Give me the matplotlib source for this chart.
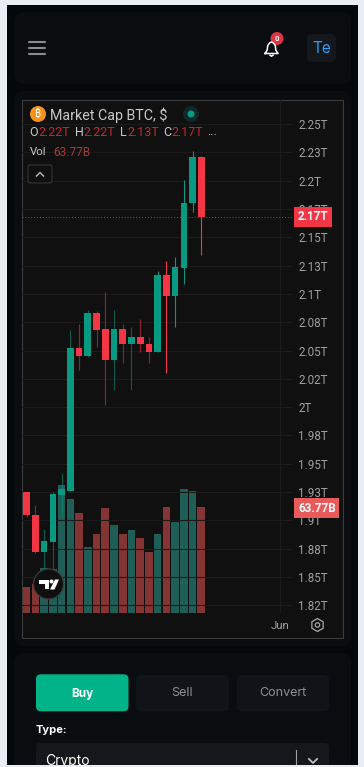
import numpy as np
import matplotlib
matplotlib.use('Agg')
from matplotlib import pyplot as plt
from matplotlib.patches import Circle, FancyBboxPatch, Polygon, Rectangle, RegularPolygon

plt.rcParams['font.family'] = ['Roboto', 'DejaVu Sans']

# candles, in trillions of dollars
opens = [1.925, 1.905, 1.872, 1.881, 1.922, 1.926, 2.052, 2.045, 2.083, 2.069, 2.042,
         2.069, 2.056, 2.062, 2.056, 2.049, 2.117, 2.098, 2.123, 2.180, 2.221]
closes = [1.905, 1.872, 1.882, 1.923, 1.928, 2.052, 2.045, 2.083, 2.068, 2.042, 2.069,
          2.056, 2.062, 2.056, 2.049, 2.117, 2.098, 2.124, 2.180, 2.221, 2.168]
highs = [1.925, 1.914, 1.892, 1.925, 1.942, 2.068, 2.073, 2.086, 2.085, 2.102, 2.086,
         2.073, 2.071, 2.078, 2.062, 2.120, 2.129, 2.133, 2.201, 2.226, 2.222]
lows = [1.903, 1.871, 1.856, 1.856, 1.903, 1.925, 2.033, 2.044, 2.053, 2.002, 2.015,
        2.039, 2.015, 2.049, 2.039, 2.049, 2.030, 2.071, 2.109, 2.172, 2.134]
# volume, in billions
volumes = [15.7, 17.4, 27.0, 26.6, 77.3, 68.6, 60.3, 39.6, 47.4, 63.2, 52.9,
           47.4, 50.0, 45.2, 36.9, 47.4, 64.1, 55.1, 75.0, 73.4, 63.77]
price_ticks = [2.25, 2.225, 2.2, 2.175, 2.15, 2.125, 2.1, 2.075, 2.05, 2.025, 2.0,
               1.975, 1.95, 1.925, 1.9, 1.875, 1.85, 1.825]
price_labels = ['2.25T', '2.23T', '2.2T', '2.17T', '2.15T', '2.13T', '2.1T', '2.08T', '2.05T',
                '2.02T', '2T', '1.98T', '1.95T', '1.93T', '1.9T', '1.88T', '1.85T', '1.82T']
month_ticks = [29]
month_labels = ['Jun']

UP = '#089981'
DOWN = '#f23645'
W, H = 364, 767


def axes_px(left, top, right, bottom, **kw):
    return fig.add_axes([left / W, 1 - bottom / H, (right - left) / W, (bottom - top) / H], **kw)


def box(ax, left, top, right, bottom, r, color, edge='none', **kw):
    ax.add_patch(FancyBboxPatch((left, top), right - left, bottom - top,
                                boxstyle=f'round,pad=0,rounding_size={r}',
                                fc=color, ec=edge, lw=0.8, **kw))


fig = plt.figure(figsize=(W / 100, H / 100), facecolor='#e9eef5')

# page behind the chart
back = fig.add_axes([0, 0, 1, 1], zorder=0)
back.set_xlim(0, W)
back.set_ylim(H, 0)
back.axis('off')
back.add_patch(Rectangle((7, 5), 351, 760, fc='#05080b', ec='none'))
box(back, 14, 12, 351, 84, 10, '#0a0d10')
box(back, 14, 91, 351, 646, 10, '#0a0d10')
box(back, 14, 653, 351, 775, 10, '#0a0d10')
back.add_patch(Rectangle((21.5, 99.5), 321, 538.5, fc='#101010', ec='#3c3c3c', lw=0.8))

# volume sits under the candles
x = np.arange(len(opens))
is_up = np.array(closes) >= np.array(opens)
vol_ax = axes_px(22, 100, 292, 612.7, zorder=1)
vol_ax.patch.set_alpha(0)
vol_ax.axis('off')
vol_ax.bar(x, volumes, 0.87, color=np.where(is_up, '#1f5e57', '#843432'))
vol_ax.set_xlim(-0.538, 30.39)
vol_ax.set_ylim(0, 310.2)

ax = axes_px(22, 100, 292, 612.7, zorder=2)
ax.patch.set_alpha(0)
ax.set_xlim(-0.538, 30.39)
ax.set_ylim(1.8185, 2.2712)
for side in ax.spines.values():
    side.set_visible(False)
ax.yaxis.tick_right()
ax.set_yticks(price_ticks, price_labels)
ax.set_xticks(month_ticks, month_labels)
ax.tick_params(axis='y', length=0, pad=4.5, labelsize=8.4, labelcolor='#a0a0a0')
ax.tick_params(axis='x', length=0, pad=6, labelsize=8.2, labelcolor='#a0a0a0')
ax.grid(color='#1b1b1b', lw=0.8)
ax.set_axisbelow(True)

# the older wicks are drawn dimmer in the reference
for i in x:
    color = UP if is_up[i] else DOWN
    ax.vlines(i, lows[i], highs[i], color=color, lw=0.8, alpha=0.55 if i < 15 else 1, zorder=3)
ax.bar(x, np.abs(np.array(closes) - np.array(opens)), 0.76,
       bottom=np.minimum(opens, closes), color=np.where(is_up, UP, DOWN), zorder=4)
ax.axhline(closes[-1], color=DOWN, lw=0.7, ls=(0, (1, 2)), alpha=0.8, zorder=5)

# last value tags on the price scale
trans = ax.get_yaxis_transform()
ax.text(1.0222, closes[-1], '2.17T', transform=trans, ha='left', va='center', color='white',
        fontsize=8.4, fontweight='bold', clip_on=False, zorder=8,
        bbox=dict(fc=DOWN, ec='none', boxstyle='square,pad=0.32'))
vol_y = (612.7 - 508) / 512.7
ax.text(1.0222, vol_y, '63.77B', transform=ax.transAxes, ha='left', va='center', color='white',
        fontsize=8.4, fontweight='bold', clip_on=False, zorder=8,
        bbox=dict(fc='#e95a5a', ec='none', boxstyle='square,pad=0.32'))

# everything else on the page
top = fig.add_axes([0, 0, 1, 1], zorder=5)
top.patch.set_alpha(0)
top.set_xlim(0, W)
top.set_ylim(H, 0)
top.axis('off')

# header
for y in [41.7, 48, 54.3]:
    top.plot([29, 45], [y, y], color='#8c8c8c', lw=1.5, solid_capstyle='round')
bell = [(265, 53.5), (267.2, 50), (267.7, 45.5), (269.8, 42.8), (271.5, 42), (273.2, 42.8), (275.3, 45.5),
        (275.8, 50), (278, 53.5), (265, 53.5)]
top.plot(*zip(*bell), color='white', lw=1.1)
top.plot([270, 271.5, 273], [55.2, 56.2, 55.2], color='white', lw=1.1)
top.add_patch(Circle((277, 38.5), 6.5, fc='#dc3545', ec='none'))
top.text(277, 38.7, '0', color='white', fontsize=5.5, fontweight='bold', ha='center', va='center')
box(top, 307, 34, 336, 62, 5, '#14181c')
top.text(322, 48.5, 'Te', color='#2a9df4', fontsize=11, ha='center', va='center', family='Inter')

# chart legend
top.add_patch(Circle((38, 114), 8, fc='#f7931a', ec='none'))
top.text(38, 114.5, '\u20bf', color='white', fontsize=7.5, fontweight='bold', ha='center', va='center',
         family=['Noto Sans', 'Open Sans', 'Inter', 'Lato', 'Liberation Sans', 'DejaVu Sans'])
top.text(50, 115, 'Market Cap BTC, $', color='#c8c8c8', fontsize=10.3, ha='left', va='center')
top.add_patch(Circle((191, 114), 8, fc='#10282a', ec='none'))
top.add_patch(Circle((191, 114), 3.5, fc=UP, ec='none'))
ohlc = [(29, 'O', '2.22T', 38), (75, 'H', '2.22T', 83), (120, 'L', '2.13T', 127), (163, 'C', '2.17T', 171)]
for x0, name, value, x1 in ohlc:
    top.text(x0, 133, name, color='#c8c8c8', fontsize=9, ha='left', va='center')
    top.text(x1, 133, value, color='#c5262f', fontsize=9, ha='left', va='center')
top.text(207, 131.5, '...', color='#c8c8c8', fontsize=9, ha='left', va='center')
top.text(30, 152, 'Vol', color='#c8c8c8', fontsize=8.2, ha='left', va='center')
top.text(53, 152, '63.77B', color='#a83a3a', fontsize=8.5, ha='left', va='center')
box(top, 28, 165, 52, 183, 2, '#101010', edge='#333333')
top.plot([36.5, 40, 43.5], [176, 172.5, 176], color='#b0b0b0', lw=1.1)

# TradingView logo
top.add_patch(Circle((48.5, 584), 15, fc='#0f0f0f', ec='#3a3a3a', lw=0.9))
top.add_patch(Polygon([(39, 579.5), (49, 579.5), (49, 589), (44.5, 589), (44.5, 583.5), (39, 583.5)],
                      fc='white', ec='none'))
top.add_patch(Circle((51.5, 581.5), 2, fc='white', ec='none'))
top.add_patch(Polygon([(55, 579.5), (59, 579.5), (54.5, 589.5), (50, 589.5)], fc='white', ec='none'))

# settings icon
top.add_patch(RegularPolygon((317.5, 625), 6, radius=6.5, fc='none', ec='#a8a8a8', lw=0.9))
top.add_patch(Circle((317.5, 625), 2.2, fc='none', ec='#a8a8a8', lw=0.9))

# order form
box(top, 36, 674.3, 128.5, 711.3, 5, '#00b388')
box(top, 136, 675, 229, 711.3, 5, '#101418')
box(top, 237, 675, 329, 711.3, 5, '#101418')
top.text(82, 693.5, 'Buy', color='white', fontsize=8.5, fontweight='bold', ha='center', va='center', family='Inter')
top.text(182.5, 693.5, 'Sell', color='#8a8f94', fontsize=9, ha='center', va='center', family='Inter')
top.text(283, 693.5, 'Convert', color='#8a8f94', fontsize=9, ha='center', va='center', family='Inter')
top.text(36, 730, 'Type:', color='white', fontsize=8, fontweight='bold', ha='left', va='center', family='Inter')
box(top, 36, 743, 329, 780, 4, '#15171a')
top.text(45, 761, 'Crypto', color='white', fontsize=10, ha='left', va='center', family='Inter')
top.plot([296, 296], [750, 765], color='#a0a0a0', lw=0.8)
top.plot([309, 313, 317], [759, 763, 759], color='#c0c0c0', lw=1.3)
top.add_patch(Rectangle((0, 765), W, 2, fc='#e9eef5', ec='none', zorder=10))

fig.savefig('out.png', dpi=100, facecolor=fig.get_facecolor())
